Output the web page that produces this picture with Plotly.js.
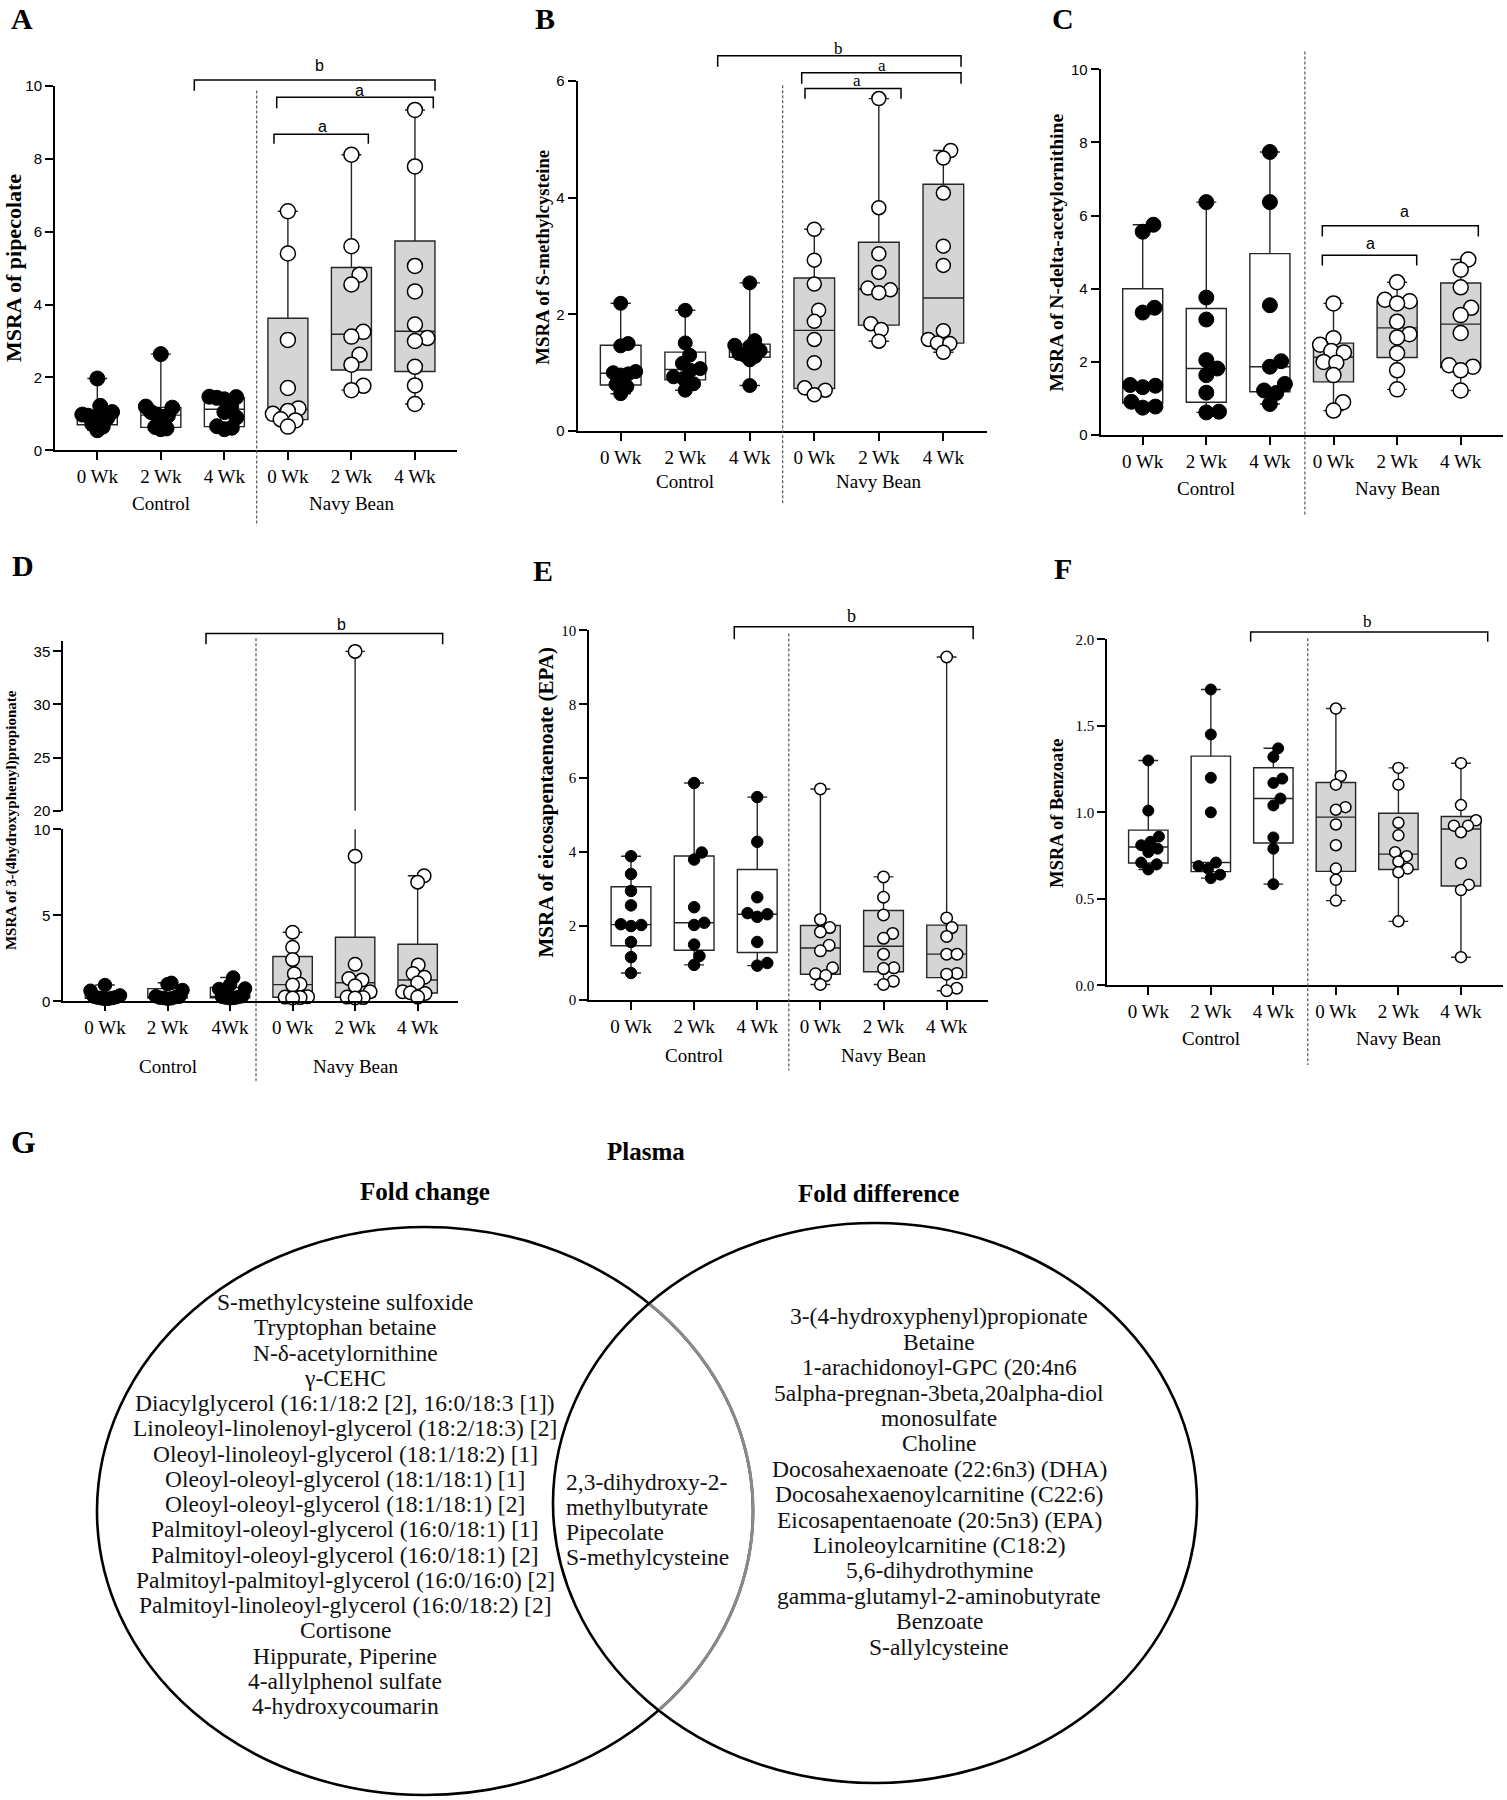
<!DOCTYPE html>
<html><head><meta charset="utf-8">
<script src="https://cdn.plot.ly/plotly-3.0.1.min.js"></script>
<style>html,body{margin:0;padding:0;background:#fff}</style>
</head><body><div id="chart" style="width:1507px;height:1800px"></div>
<script>
// ================= DATA =================
const weeks  = ['0 Wk', '2 Wk', '4 Wk', '0 Wk', '2 Wk', '4 Wk'];
const weeksD = ['0 Wk', '2 Wk', '4Wk', '0 Wk', '2 Wk', '4 Wk'];
const groupNames = ['Control', 'Navy Bean'];

// A – pipecolate (rows: 0, 2, 4 Wk)
const pipecolateControl = [
  [1.97, 1.22, 1.05, 0.98, 0.95, 0.92, 0.88, 0.72, 0.65, 0.55],
  [2.64, 1.20, 1.17, 1.05, 0.98, 0.95, 0.92, 0.64, 0.60, 0.58],
  [1.47, 1.46, 1.44, 1.40, 1.20, 1.05, 0.90, 0.66, 0.62, 0.58]
];
const pipecolateNavyBean = [
  [6.56, 5.40, 3.03, 1.71, 1.15, 1.08, 1.00, 0.85, 0.82, 0.65],
  [8.11, 5.60, 4.82, 4.55, 3.25, 3.12, 2.62, 2.35, 1.77, 1.65],
  [9.34, 7.79, 5.06, 4.36, 3.45, 3.08, 3.00, 2.29, 1.78, 1.27]
];
// B – S-methylcysteine
const smcControl = [
  [2.19, 1.50, 1.46, 1.02, 1.00, 0.98, 0.96, 0.80, 0.76, 0.64],
  [2.07, 1.51, 1.30, 1.16, 1.07, 1.04, 0.93, 0.90, 0.81, 0.70],
  [2.54, 1.55, 1.47, 1.45, 1.38, 1.33, 1.30, 1.28, 1.22, 0.78]
];
const smcNavyBean = [
  [3.46, 2.93, 2.52, 2.07, 1.88, 1.57, 1.17, 0.74, 0.70, 0.62],
  [5.70, 3.83, 3.04, 2.72, 2.45, 2.42, 2.37, 1.84, 1.74, 1.54],
  [4.81, 4.68, 4.08, 3.17, 2.84, 1.72, 1.57, 1.51, 1.50, 1.35]
];
// C – N-delta-acetylornithine
const ndaoControl = [
  [5.75, 5.56, 3.48, 3.35, 1.37, 1.35, 1.31, 0.91, 0.78, 0.75],
  [6.37, 3.76, 3.16, 2.05, 1.82, 1.64, 1.16, 0.64, 0.62],
  [7.74, 6.37, 3.55, 2.02, 1.87, 1.40, 1.22, 1.15, 0.85]
];
const ndaoNavyBean = [
  [3.60, 2.65, 2.47, 2.30, 2.26, 2.00, 1.98, 1.64, 0.90, 0.67],
  [4.18, 3.70, 3.66, 3.60, 3.10, 2.76, 2.67, 2.24, 1.77, 1.25],
  [4.80, 4.52, 4.04, 3.48, 3.28, 2.79, 1.91, 1.87, 1.77, 1.22]
];
// D – 3-(4-hydroxyphenyl)propionate
const hppControl = [
  [0.95, 0.62, 0.35, 0.28, 0.25, 0.22, 0.20, 0.18, 0.16, 0.14],
  [1.08, 1.00, 0.66, 0.30, 0.27, 0.25, 0.22, 0.20, 0.18, 0.15],
  [1.39, 0.97, 0.75, 0.72, 0.30, 0.27, 0.25, 0.22, 0.20, 0.18]
];
const hppNavyBean = [
  [4.02, 3.15, 2.43, 1.60, 1.00, 0.95, 0.27, 0.25, 0.22, 0.20],
  [35.0, 8.44, 2.16, 1.33, 1.25, 0.91, 0.56, 0.25, 0.22, 0.20],
  [7.30, 6.93, 2.12, 1.62, 1.40, 1.08, 0.56, 0.50, 0.46, 0.25]
];
// E – eicosapentaenoate (EPA)
const epaControl = [
  [3.89, 3.41, 2.95, 2.56, 2.05, 2.03, 2.00, 1.57, 1.16, 0.73],
  [5.87, 3.99, 3.80, 2.51, 2.09, 2.03, 1.50, 1.19, 0.95],
  [5.49, 4.28, 2.78, 2.35, 2.32, 2.25, 1.57, 1.00, 0.93]
];
const epaNavyBean = [
  [5.71, 2.18, 1.96, 1.84, 1.48, 1.33, 0.87, 0.71, 0.66, 0.42],
  [3.33, 2.78, 2.30, 1.80, 1.67, 1.24, 0.87, 0.85, 0.51, 0.42],
  [9.28, 2.22, 1.96, 1.72, 1.24, 1.24, 0.72, 0.70, 0.32, 0.25]
];
// F – Benzoate
const benzoateControl = [
  [1.30, 1.01, 0.86, 0.83, 0.81, 0.79, 0.77, 0.71, 0.70, 0.67],
  [1.71, 1.45, 1.20, 1.00, 0.71, 0.69, 0.675, 0.64, 0.62],
  [1.37, 1.32, 1.195, 1.17, 1.08, 1.04, 0.855, 0.79, 0.585]
];
const benzoateNavyBean = [
  [1.60, 1.21, 1.16, 1.03, 1.015, 0.93, 0.81, 0.675, 0.61, 0.49],
  [1.257, 1.16, 0.94, 0.867, 0.77, 0.747, 0.716, 0.675, 0.654, 0.37],
  [1.284, 1.042, 0.954, 0.923, 0.923, 0.885, 0.706, 0.582, 0.551, 0.163]
];

// G – Venn lists
const vennTitle = 'Plasma';
const vennSetNames = ['Fold change', 'Fold difference'];
const foldChangeOnly = [
  'S-methylcysteine sulfoxide', 'Tryptophan betaine', 'N-δ-acetylornithine', 'γ-CEHC',
  'Diacylglycerol (16:1/18:2 [2], 16:0/18:3 [1])',
  'Linoleoyl-linolenoyl-glycerol (18:2/18:3) [2]',
  'Oleoyl-linoleoyl-glycerol (18:1/18:2) [1]',
  'Oleoyl-oleoyl-glycerol (18:1/18:1) [1]',
  'Oleoyl-oleoyl-glycerol (18:1/18:1) [2]',
  'Palmitoyl-oleoyl-glycerol (16:0/18:1) [1]',
  'Palmitoyl-oleoyl-glycerol (16:0/18:1) [2]',
  'Palmitoyl-palmitoyl-glycerol (16:0/16:0) [2]',
  'Palmitoyl-linoleoyl-glycerol (16:0/18:2) [2]',
  'Cortisone', 'Hippurate, Piperine', '4-allylphenol sulfate', '4-hydroxycoumarin'
];
const sharedBoth = ['2,3-dihydroxy-2-', 'methylbutyrate', 'Pipecolate', 'S-methylcysteine'];
const foldDifferenceOnly = [
  '3-(4-hydroxyphenyl)propionate', 'Betaine', '1-arachidonoyl-GPC (20:4n6',
  '5alpha-pregnan-3beta,20alpha-diol', 'monosulfate', 'Choline',
  'Docosahexaenoate (22:6n3) (DHA)', 'Docosahexaenoylcarnitine (C22:6)',
  'Eicosapentaenoate (20:5n3) (EPA)', 'Linoleoylcarnitine (C18:2)',
  '5,6-dihydrothymine', 'gamma-glutamyl-2-aminobutyrate', 'Benzoate', 'S-allylcysteine'
];

// ================= LAYOUT GEOMETRY (pixels) =================
const W = 1507, H = 1800;
const PX = x => x / W;
const PY = y => 1 - y / H;
const SERIF = 'Liberation Serif, Times New Roman, serif';
const SANS = 'Liberation Sans, Arial, sans-serif';

const panels = [
  {n:1, letter:'A', title:'MSRA of pipecolate', tSize:22, ctrl:pipecolateControl, nb:pipecolateNavyBean, labels:weeks,
   xL:55, xR:456.7, c0:97.3, step:63.53, yB:450.3, yT:85.9, yMin:0, yMax:10, ticks:[0,2,4,6,8,10], tickFam:SANS,
   letterXY:[21.7,18.6], titleXY:[13.3,267.8], groupY:503.7, div:[2.509,90.6,525.7], ms:15, over:0.85,
   sigFam:SANS, sigSize:16,
   br:[[1.527,5.316,10.16,9.87,'b',3.49,10.55],[2.824,5.289,9.69,9.39,'a',4.135,9.87],[2.781,4.266,8.67,8.41,'a',3.542,8.88]]},
  {n:2, letter:'B', title:'MSRA of S-methylcysteine', tSize:18.8, ctrl:smcControl, nb:smcNavyBean, labels:weeks,
   xL:577.7, xR:986.7, c0:620.7, step:64.53, yB:431.0, yT:81.1, yMin:0, yMax:6, ticks:[0,2,4,6], tickFam:SANS,
   letterXY:[545,18.6], titleXY:[541.7,257], groupY:481.7, div:[2.51,85.2,503.7], ms:14, over:0.85,
   sigFam:SERIF, sigSize:17,
   br:[[1.503,5.274,6.434,6.248,'b',3.372,6.562],[2.805,5.274,6.144,5.953,'a',4.045,6.26],[2.856,4.344,5.871,5.698,'a',3.657,6.01]]},
  {n:3, letter:'C', title:'MSRA of N-delta-acetylornithine', tSize:19.6, ctrl:ndaoControl, nb:ndaoNavyBean, labels:weeks,
   xL:1100.7, xR:1502.7, c0:1142.7, step:63.6, yB:435.1, yT:69.3, yMin:0, yMax:10, ticks:[0,2,4,6,8,10], tickFam:SANS,
   letterXY:[1063.3,18.6], titleXY:[1056.7,252.7], groupY:488.5, div:[2.55,51.4,515.6], ms:15, over:0.85,
   sigFam:SANS, sigSize:16,
   br:[[2.824,4.308,4.918,4.639,'a',3.585,5.24],[2.824,5.277,5.722,5.426,'a',4.124,6.118]]},
  {n:4, letter:'D', title:'MSRA of 3-(4hydroxyphenyl)propionate', tSize:15, ctrl:hppControl, nb:hppNavyBean, labels:weeksD,
   xL:63.3, xR:458.3, c0:105, step:62.53, yB:1001.4, yT:829.3, yMin:0, yMax:10, ticks:[0,5,10], tickFam:SANS,
   upper:{yB:810.7, yT:641.4, yMin:20, yMax:35.94, ticks:[20,25,30,35]},
   letterXY:[23.3,565], titleXY:[11.7,820.4], groupY:1066.8, div:[2.415,638.2,1081], ms:13.5, over:0.85,
   sigFam:SANS, sigSize:16,
   br:[[1.615,5.40,36.68,35.67,'b',3.784,37.52]]},
  {n:5, letter:'E', title:'MSRA of eicosapentaenoate (EPA)', tSize:21, ctrl:epaControl, nb:epaNavyBean, labels:weeks,
   xL:589.3, xR:988.3, c0:631, step:63.13, yB:1000, yT:630.4, yMin:0, yMax:10, ticks:[0,2,4,6,8,10], tickFam:SERIF,
   letterXY:[543.3,570.4], titleXY:[545,802.5], groupY:1055, div:[2.50,633.6,1070.4], ms:11.5, over:0.9,
   sigFam:SERIF, sigSize:18,
   br:[[1.636,5.42,10.10,9.76,'b',3.485,10.39]]},
  {n:6, letter:'F', title:'MSRA of Benzoate', tSize:18.4, ctrl:benzoateControl, nb:benzoateNavyBean, labels:weeks,
   xL:1107.3, xR:1502.7, c0:1148.3, step:62.53, yB:985.4, yT:639.3, yMin:0, yMax:2, ticks:[0,0.5,1,1.5,2], tickFam:SERIF, tickFormat:'.1f',
   letterXY:[1063.3,568.6], titleXY:[1056.7,813], groupY:1038, div:[2.55,638.2,1065], ms:11, over:0.9,
   sigFam:SERIF, sigSize:17,
   br:[[1.637,5.428,2.042,1.986,'b',3.51,2.10]]}
];
const SWARM_HALF = 15;   // max half-spread of points (px)

// ================= HELPERS =================
function quant(arr, p) {          // Prism-style percentile, position p*(n+1)
  const s = arr.slice().sort((a, b) => a - b), n = s.length;
  const pos = p * (n + 1);
  if (pos <= 1) return s[0];
  if (pos >= n) return s[n - 1];
  const lo = Math.floor(pos), fr = pos - lo;
  return s[lo - 1] + fr * (s[lo] - s[lo - 1]);
}
function swarm(vals, d, ppu) {     // deterministic beeswarm offsets (pixels)
  const order = vals.map((v, i) => i).sort((a, b) => vals[a] - vals[b]);
  const placed = [], off = new Array(vals.length).fill(0);
  order.forEach(i => {
    const y = vals[i] * ppu;
    const near = placed.filter(p => Math.abs(p.y - y) < d);
    let cands = [0];
    near.forEach(p => { const dx = Math.sqrt(d * d - (p.y - y) * (p.y - y)); cands.push(p.x + dx + 0.01, p.x - dx - 0.01); });
    cands = cands.filter(c => near.every(p => (c - p.x) * (c - p.x) + (y - p.y) * (y - p.y) >= d * d - 0.5));
    cands.sort((a, b) => Math.abs(a) - Math.abs(b));
    placed.push({ x: cands[0], y }); off[i] = cands[0];
  });
  const m = Math.max(...off.map(Math.abs));
  const k = m > SWARM_HALF ? SWARM_HALF / m : 1;
  return off.map(o => o * k);
}
const sfx = n => (n === 1 ? '' : String(n));
function valPx(g, v) { return g.yB - (v - g.yMin) / (g.yMax - g.yMin) * (g.yB - g.yT); }
function catPx(p, c) { return p.c0 + c * p.step; }

const data = [], shapes = [], annotations = [];
const layout = {
  width: W, height: H, margin: { l: 0, r: 0, t: 0, b: 0 },
  paper_bgcolor: '#ffffff', plot_bgcolor: 'rgba(0,0,0,0)',
  showlegend: false, hovermode: false,
  font: { family: SERIF, color: '#000' }
};
function ann(text, x, y, o) {
  annotations.push(Object.assign({
    text, x: PX(x), y: PY(y), xref: 'paper', yref: 'paper', showarrow: false,
    xanchor: 'center', yanchor: 'middle', font: { family: SERIF, size: 19, color: '#000' }
  }, o || {}));
}
function yAxisStyle(ticks, fam, fmt) {
  return {
    tickmode: 'array', tickvals: ticks, tickformat: fmt || '',
    showgrid: false, zeroline: false, showline: true, linecolor: '#000', linewidth: 2,
    ticks: 'outside', ticklen: 8, tickwidth: 2, tickcolor: '#000',
    tickfont: { family: fam, size: 15, color: '#000' }, fixedrange: true
  };
}

// ================= BUILD PANELS =================
panels.forEach(p => {
  const s = sfx(p.n);
  const xa = 'x' + s, ya = 'y' + s;
  layout['xaxis' + s] = {
    domain: [PX(p.xL), PX(p.xR)], range: [(p.xL - p.c0) / p.step, (p.xR - p.c0) / p.step],
    anchor: ya, tickmode: 'array', tickvals: [0, 1, 2, 3, 4, 5], ticktext: p.labels,
    showgrid: false, zeroline: false, showline: true, linecolor: '#000', linewidth: 2,
    ticks: 'outside', ticklen: 8, tickwidth: 2, tickcolor: '#000',
    tickfont: { family: SERIF, size: 19, color: '#000' }, fixedrange: true
  };
  layout['yaxis' + s] = Object.assign(yAxisStyle(p.ticks, p.tickFam, p.tickFormat), {
    domain: [PY(p.yB), PY(p.yT)], range: [p.yMin, p.yMax], anchor: xa
  });
  const subplots = [[xa, ya, p]];
  if (p.upper) {
    layout['yaxis7'] = Object.assign(yAxisStyle(p.upper.ticks, p.tickFam), {
      domain: [PY(p.upper.yB), PY(p.upper.yT)], range: [p.upper.yMin, p.upper.yMax], anchor: xa
    });
    subplots.push([xa, 'y7', p.upper]);
  }
  const ppu = (p.yB - p.yT) / (p.yMax - p.yMin);

  [p.ctrl, p.nb].forEach((series, gi) => {
    const pos = series.map((_, i) => i + 3 * gi);
    const box = {
      type: 'box', orientation: 'v', x: pos,
      q1: series.map(v => quant(v, 0.25)), median: series.map(v => quant(v, 0.5)), q3: series.map(v => quant(v, 0.75)),
      lowerfence: series.map(v => Math.min(...v)), upperfence: series.map(v => Math.max(...v)),
      width: 0.63, whiskerwidth: 0.5, boxpoints: false,
      fillcolor: gi === 0 ? '#ffffff' : '#d5d5d5',
      line: { color: '#262626', width: 1.4 }, hoverinfo: 'skip'
    };
    subplots.forEach(([sx, sy]) => data.push(Object.assign({}, box, { xaxis: sx, yaxis: sy })));
  });
  [p.ctrl, p.nb].forEach((series, gi) => {
    subplots.forEach(([sx, sy, g]) => {
      const xs = [], ys = [];
      series.forEach((vals, i) => {
        const off = swarm(vals, p.ms * p.over, ppu);
        vals.forEach((v, k) => {
          if (v >= g.yMin && v <= g.yMax) { xs.push(i + 3 * gi + off[k] / p.step); ys.push(v); }
        });
      });
      data.push({
        type: 'scatter', mode: 'markers', xaxis: sx, yaxis: sy, x: xs, y: ys, cliponaxis: false,
        marker: { size: p.ms, color: gi === 0 ? '#000' : '#fff', line: { color: '#000', width: gi === 0 ? 1 : 1.5 } },
        hoverinfo: 'skip'
      });
    });
  });

  // divider
  const dx = PX(catPx(p, p.div[0]));
  shapes.push({ type: 'line', xref: 'paper', yref: 'paper', x0: dx, x1: dx, y0: PY(p.div[1]), y1: PY(p.div[2]),
    line: { color: '#555', width: 1.2, dash: '3px,2px' } });
  // brackets
  const g = p.upper || p;
  p.br.forEach(b => {
    const X1 = PX(catPx(p, b[0])), X2 = PX(catPx(p, b[1]));
    const YL = PY(valPx(g, b[2])), YG = PY(valPx(g, b[3]));
    shapes.push({ type: 'path', xref: 'paper', yref: 'paper',
      path: `M ${X1},${YG} L ${X1},${YL} L ${X2},${YL} L ${X2},${YG}`, line: { color: '#000', width: 1.5 } });
    ann(b[4], catPx(p, b[5]), valPx(g, b[6]), { font: { family: p.sigFam, size: p.sigSize, color: '#000' } });
  });
  // texts
  ann('<b>' + p.letter + '</b>', p.letterXY[0], p.letterXY[1], { font: { family: SERIF, size: 30, color: '#000' } });
  ann('<b>' + p.title + '</b>', p.titleXY[0], p.titleXY[1], { textangle: -90, font: { family: SERIF, size: p.tSize, color: '#000' } });
  ann(groupNames[0], catPx(p, 1), p.groupY);
  ann(groupNames[1], catPx(p, 4), p.groupY);
});

// ================= VENN (G) =================
const L = { cx: 425, cy: 1511, rx: 328, ry: 284 };
const R = { cx: 875, cy: 1503, rx: 322, ry: 280 };
[L, R].forEach(e => shapes.push({ type: 'circle', xref: 'paper', yref: 'paper',
  x0: PX(e.cx - e.rx), x1: PX(e.cx + e.rx), y0: PY(e.cy + e.ry), y1: PY(e.cy - e.ry),
  line: { color: '#000', width: 2.6 } }));
// grey arc of the left set inside the right set
(function () {
  const pts = [];
  for (let k = -900; k <= 900; k++) {
    const t = k / 900 * Math.PI / 2;
    const x = L.cx + L.rx * Math.cos(t), y = L.cy + L.ry * Math.sin(t);
    const inside = ((x - R.cx) / R.rx) ** 2 + ((y - R.cy) / R.ry) ** 2 < 0.995;
    if (inside) pts.push(`${PX(x)},${PY(y)}`);
  }
  if (pts.length) shapes.push({ type: 'path', xref: 'paper', yref: 'paper', path: 'M ' + pts.join(' L '),
    line: { color: '#8a8a8a', width: 3 } });
})();
ann('<b>G</b>', 23.3, 1141.7, { font: { family: SERIF, size: 32, color: '#000' } });
ann('<b>' + vennTitle + '</b>', 645.7, 1151.7, { font: { family: SERIF, size: 25, color: '#000' } });
ann('<b>' + vennSetNames[0] + '</b>', 425, 1191.7, { font: { family: SERIF, size: 25, color: '#000' } });
ann('<b>' + vennSetNames[1] + '</b>', 878, 1193, { font: { family: SERIF, size: 25, color: '#000' } });
const vennFont = { family: SERIF, size: 23.5, color: '#111' };
foldChangeOnly.forEach((t, i) => ann(t, 345, 1302 + i * 25.25, { font: vennFont }));
sharedBoth.forEach((t, i) => ann(t, 564, 1481.7 + i * 25, { font: vennFont, xanchor: 'left' }));
foldDifferenceOnly.forEach((t, i) => ann(t, 939, 1316.3 + i * 25.4, { font: vennFont }));

layout.shapes = shapes;
layout.annotations = annotations;
Plotly.newPlot('chart', data, layout, { staticPlot: true, displayModeBar: false });
</script></body></html>
